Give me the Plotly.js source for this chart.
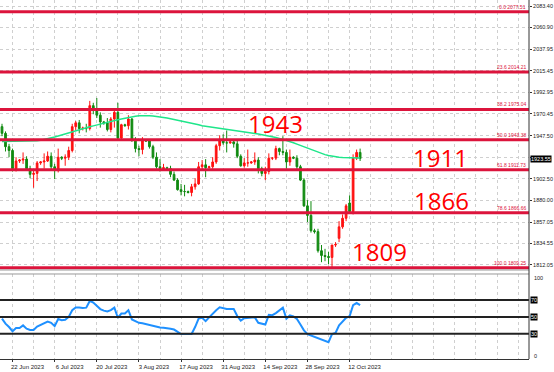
<!DOCTYPE html>
<html><head><meta charset="utf-8">
<script src="https://cdn.plot.ly/plotly-3.0.1.min.js"></script>
<style>html,body{margin:0;padding:0;background:#fff;}#chart{width:554px;height:372px;}</style>
</head><body><div id="chart"></div>
<script>
// Bars: index 0 = Mon 19 Jun 2023, broker includes Sunday bars (6 bars per week)
const barOpen  = [1957,1950,1936,1932,1913,1921,1922,1923,1913,1907,1908,1919,1920,1921,1926,1915,1911,1925,1924,1925,
  1932,1957,1961,1955,1955,1955,1979,1976,1969,1962,1961,1954,1965,1972,1945,1959,1958,1965,1944,1934,
  1933,1943,1942,1936,1925,1915,1913,1914,1913,1907,1901,1891,1889,1889,1888,1894,1897,1915,1917,1914,
  1915,1920,1937,1942,1940,1940,1941,1939,1926,1916,1919,1919,1920,1922,1913,1908,1910,1924,1924,1934,
  1931,1930,1920,1925,1924,1915,1901,1874,1864,1848,1847,1827,1822,1821,1820,1833,1840,1852,1861,1877,
  1868,1924,1930];
const barHigh  = [1960,1952,1939,1934,1925,1923,1930,1926,1916,1912,1921,1921,1929,1931,1930,1918,1934,1926,1928,1936,
  1960,1963,1964,1957,1960,1984,1982,1987,1972,1963,1966,1967,1974,1982,1960,1960,1969,1966,1946,1937,
  1946,1944,1944,1938,1930,1923,1918,1915,1916,1910,1903,1897,1896,1890,1897,1903,1920,1922,1923,1916,
  1925,1939,1948,1949,1953,1942,1943,1944,1928,1924,1933,1921,1930,1925,1915,1915,1929,1925,1937,1935,
  1947,1933,1933,1926,1927,1917,1903,1880,1879,1850,1850,1833,1829,1826,1833,1836,1858,1865,1876,1885,
  1928,1933,1934];
const barLow   = [1947,1931,1925,1910,1910,1919,1918,1911,1903,1893,1900,1917,1913,1920,1912,1902,1909,1922,1916,1922,
  1930,1953,1950,1953,1951,1953,1970,1966,1956,1959,1952,1951,1956,1943,1943,1957,1954,1941,1930,1926,
  1928,1941,1934,1923,1913,1910,1911,1912,1904,1900,1890,1885,1884,1887,1884,1891,1896,1912,1904,1913,
  1913,1918,1932,1938,1930,1939,1935,1924,1915,1914,1915,1918,1917,1908,1905,1901,1907,1922,1922,1927,
  1927,1913,1916,1923,1912,1900,1873,1857,1846,1845,1825,1815,1816,1813,1810,1831,1836,1850,1858,1866,
  1865,1922,1921];
const barClose = [1950,1936,1932,1913,1921,1922,1923,1913,1907,1908,1919,1920,1921,1926,1915,1911,1925,1924,1925,1932,
  1957,1961,1955,1955.5,1955,1979,1976,1969,1962,1961,1954,1965,1972,1945,1959,1958,1965,1944,1934,1933,
  1943,1942,1936,1925,1915,1913,1914,1913,1907,1901,1891,1889,1889,1888,1894,1897,1915,1917,1914,1915,
  1920,1937,1942,1940,1940,1941,1939,1926,1916,1919,1919,1920,1922,1913,1908,1910,1924,1924,1934,1931,
  1930,1920,1925,1924,1915,1901,1874,1864,1848,1847,1827,1822,1821,1820,1833,1833.5,1852,1861,1874,1868,
  1924,1930,1923.55];
const maValues = [1941.5,1941.5,1941.5,1941.5,1941.5,1941.5,1941.5,1941.6,1941.7,1941.8,1942.2,1942.8,1943.5,1944.3,1945.2,1946.2,1947.2,1948.3,1949.5,1950.8,
  1952,1953.2,1954.2,1955,1955.8,1956.8,1957.8,1958.6,1959.5,1960.4,1961.3,1962.2,1963.2,1964.2,1965.1,1966,1966.8,1967.5,1968,1968.4,
  1968.6,1968.6,1968.5,1968.2,1967.8,1967.3,1966.7,1966,1965.3,1964.6,1963.9,1963.2,1962.5,1961.7,1960.8,1959.9,1959,1958,1957.4,1956.9,
  1956.3,1955.8,1955.3,1954.8,1954.3,1953.8,1953.3,1952.8,1952.2,1951.6,1951,1950.4,1949.8,1949.3,1948.7,1948.1,1947.5,1946.6,1945.7,1944.7,
  1943.7,1942.6,1941.4,1940.1,1938.7,1937.3,1935.8,1934.3,1932.8,1931.4,1930,1928.8,1927.7,1926.8,1926,1925.4,1924.9,1924.6,1924.4,1924.2,
  1924.1,1924.1,1924.2];
const rsiValues = [48,42,38,33,36.8,36.8,39.9,36,34.5,34.5,38.5,40.8,43,44.5,43,39,47.4,46,46.5,50,
  58,61.3,61.3,60.5,61,69,67,63,59.3,57.5,56.5,58,61,49,54,54,58,47,44.5,43,
  42.5,41.5,40,39,38,37.5,37.2,36.8,36,35,32,29.7,29.7,29.7,29.8,38,48,49,45,49.5,
  54,58,61.5,60.5,59.4,59.4,59.3,51,45.6,48.5,49,49.3,49.5,43,42,41,52.5,52,54.5,57.5,
  61,48,51.8,50.5,47.5,41,34,29.5,28,26.5,24.5,23,22,20,29.5,31,40,45,49,50.8,
  64,66.5,64];
const tickBars = [3,15,27,39,51,63,75,87,99];
const tickLabels = ['22 Jun 2023','6 Jul 2023','20 Jul 2023','3 Aug 2023','17 Aug 2023','31 Aug 2023','14 Sep 2023','28 Sep 2023','12 Oct 2023'];
const priceTicks = [1812.05,1834.55,1857.05,1880.00,1902.50,1925.00,1947.50,1970.45,1992.95,2015.45,2037.95,2060.90,2083.40];
const priceTickLabels = ['1812.05','1834.55','1857.05','1880.00','1902.50','','1947.50','1970.45','1992.95','2015.45','2037.95','2060.90','2083.40'];
const fibPct = ['0.0','23.6','38.2','50.0','61.8','78.6','100.0'];
const fibPrice = [2077.51,2014.21,1975.04,1943.38,1911.73,1866.66,1809.25];
const keyLevels = ['1943','1911','1866','1809'];
const lastPrice = 1923.55;
const rsiLevels = [70,50,30];

const barIdx = barClose.map((_, i) => i);

const RED = '#DC143C';
const traces = [
  {type:'candlestick', x:barIdx, open:barOpen, high:barHigh, low:barLow, close:barClose,
   xaxis:'x', yaxis:'y', hoverinfo:'skip', whiskerwidth:0,
   increasing:{line:{color:'#FF1010',width:1}, fillcolor:'#FF1010'},
   decreasing:{line:{color:'#108A10',width:1}, fillcolor:'#108A10'}},
  {type:'scatter', mode:'lines', x:barIdx, y:maValues, xaxis:'x', yaxis:'y',
   line:{color:'#1EE68A', width:1.5}, hoverinfo:'skip'},
  {type:'scatter', mode:'lines', x:barIdx, y:rsiValues, xaxis:'x', yaxis:'y2',
   line:{color:'#1E90FF', width:2}, hoverinfo:'skip'}
];

const mainBottom = 0.2479, rsiTop = 0.2368;
const shapes = [];
fibPrice.forEach(p => shapes.push({type:'line', xref:'paper', x0:0, x1:1, yref:'y', y0:p, y1:p, line:{color:RED, width:3}}));
rsiLevels.forEach(v => shapes.push({type:'line', xref:'paper', x0:0, x1:1, yref:'y2', y0:v, y1:v, line:{color:'#222', width:2}}));
shapes.push({type:'line', xref:'paper', yref:'paper', x0:0, x1:1, y0:mainBottom, y1:mainBottom, line:{color:'#999', width:1}});
shapes.push({type:'line', xref:'paper', yref:'paper', x0:0, x1:1, y0:rsiTop, y1:rsiTop, line:{color:'#999', width:1}});
shapes.push({type:'line', xref:'paper', yref:'paper', x0:1, x1:1, y0:0, y1:1, line:{color:'#333', width:1}});

const annotations = [];
fibPrice.forEach((p, k) => annotations.push({xref:'paper', x:1, xanchor:'right', xshift:-1, yref:'y', y:p, yanchor:'bottom', yshift:0,
  text: fibPct[k] + ' ' + p.toFixed(2), showarrow:false, font:{family:'Liberation Sans, Arial', size:5, color:RED}}));
const bigPos = [[78, 1959.8], [125, 1924.7], [125.3, 1879.6], [107.4, 1826.7]];
keyLevels.forEach((t, k) => annotations.push({xref:'x', yref:'y', x:bigPos[k][0], y:bigPos[k][1], text:t, showarrow:false,
  font:{family:'Open Sans', size:24, color:'#FF0000'}}));
annotations.push({xref:'paper', x:1, xanchor:'left', xshift:1, yref:'y', y:lastPrice, text:lastPrice.toFixed(2), showarrow:false,
  bgcolor:'#000', borderpad:0, font:{family:'Liberation Sans, Arial', size:5.5, color:'#fff'}});
rsiLevels.forEach(v => annotations.push({xref:'paper', x:1, xanchor:'left', xshift:1, yref:'y2', y:v, text:String(v), showarrow:false,
  bgcolor:'#000', borderpad:0, font:{family:'Liberation Sans, Arial', size:5.5, color:'#fff'}}));
[[100, 96], [0, 4]].forEach(([t, v]) => annotations.push({xref:'paper', x:1, xanchor:'left', xshift:3, yref:'y2', y:v, text:String(t), showarrow:false,
  font:{family:'Liberation Sans, Arial', size:5.5, color:'#222'}}));

const grid = {gridcolor:'#cfcfcf', griddash:'dot', gridwidth:1};
const layout = {
  width:554, height:372, margin:{l:0, r:25, t:0, b:13},
  paper_bgcolor:'#fff', plot_bgcolor:'#fff', showlegend:false, dragmode:false,
  font:{family:'Liberation Sans, Arial', size:6, color:'#222'},
  xaxis:{range:[-0.57, 150.1], anchor:'y2', domain:[0,1], rangeslider:{visible:false},
    tickmode:'array', tickvals:tickBars, ticktext:tickLabels, tickfont:{size:6, color:'#222'},
    ticks:'outside', ticklen:2, tickcolor:'#333', ticklabelshift:15,
    showgrid:true, ...grid, zeroline:false, showline:true, linecolor:'#333', linewidth:1,
    minor:{tickmode:'linear', tick0:3, dtick:6, showgrid:true, ...grid, ticks:''}},
  yaxis:{domain:[mainBottom, 1], range:[1806.8, 2089.7], side:'right', anchor:'x',
    tickmode:'array', tickvals:priceTicks, ticktext:priceTickLabels, tickfont:{size:5.5, color:'#222'},
    ticks:'outside', ticklen:2, tickcolor:'#333', ticklabelstandoff:0,
    showgrid:true, ...grid, zeroline:false, showline:false},
  yaxis2:{domain:[0, rsiTop], range:[0, 101], side:'right', anchor:'x', showticklabels:false,
    showgrid:false, zeroline:false, showline:false, ticks:''},
  shapes, annotations
};
Plotly.newPlot('chart', traces, layout, {staticPlot:true, displayModeBar:false});
</script></body></html>
